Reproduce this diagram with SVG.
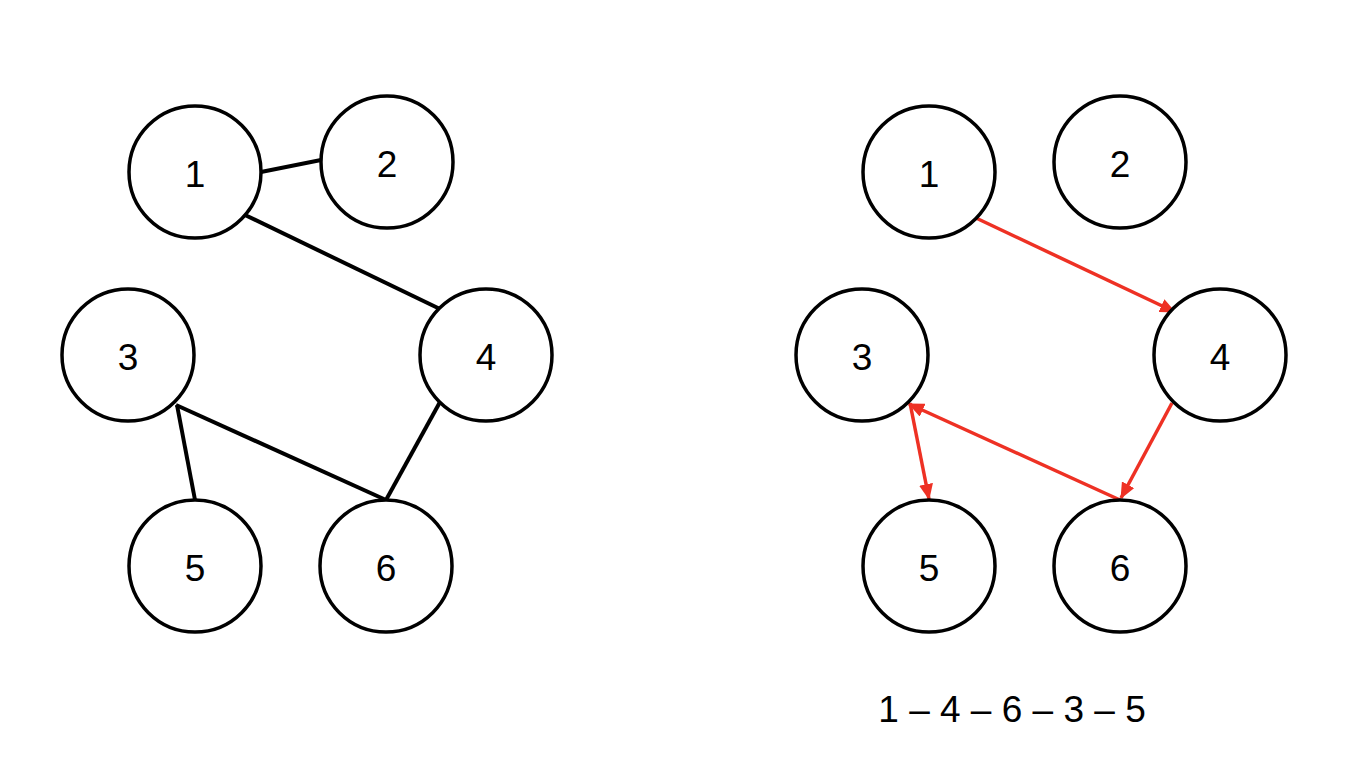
<svg xmlns="http://www.w3.org/2000/svg" width="1370" height="784" viewBox="0 0 1370 784">
<style>
.node{fill:#fff;stroke:#000;stroke-width:3.5}
.lbl{font-family:"Liberation Sans",Arial,sans-serif;font-size:37px;text-anchor:middle;fill:#000}
.e{stroke:#000;stroke-width:4;fill:none}
.a{stroke:#EE3124;stroke-width:3.5;fill:none;marker-end:url(#ah)}
</style>
<defs>
<marker id="ah" markerUnits="userSpaceOnUse" markerWidth="16" markerHeight="14" refX="15" refY="7" orient="auto">
<path d="M0,0 L16,7 L0,14 Z" fill="#EE3124"/>
</marker>
</defs>
<rect width="1370" height="784" fill="#fff"/>
<g id="connectors">
<line class="e" x1="261" y1="172" x2="321" y2="160"/>
<line class="e" x1="245" y1="215" x2="440" y2="309"/>
<line class="e" x1="177" y1="405" x2="195" y2="500"/>
<line class="e" x1="176" y1="405" x2="386" y2="500"/>
<line class="e" x1="440" y1="402" x2="386" y2="500"/>
<line class="a" x1="976" y1="218" x2="1175" y2="312"/>
<line class="a" x1="1172" y1="403" x2="1121" y2="498"/>
<line class="a" x1="1120" y1="500" x2="909" y2="404"/>
<line class="a" x1="910" y1="403" x2="929" y2="499"/>
</g>
<g id="n1"><circle class="node" cx="195" cy="172" r="66"/><text class="lbl" x="195" y="187">1</text></g>
<g id="n2"><circle class="node" cx="387" cy="162" r="66"/><text class="lbl" x="387" y="177">2</text></g>
<g id="n3"><circle class="node" cx="128" cy="355" r="66"/><text class="lbl" x="128" y="370">3</text></g>
<g id="n4"><circle class="node" cx="486" cy="355" r="66"/><text class="lbl" x="486" y="370">4</text></g>
<g id="n5"><circle class="node" cx="195" cy="566" r="66"/><text class="lbl" x="195" y="581">5</text></g>
<g id="n6"><circle class="node" cx="386" cy="566" r="66"/><text class="lbl" x="386" y="581">6</text></g>
<g id="m1"><circle class="node" cx="929" cy="172" r="66"/><text class="lbl" x="929" y="187">1</text></g>
<g id="m2"><circle class="node" cx="1120" cy="162" r="66"/><text class="lbl" x="1120" y="177">2</text></g>
<g id="m3"><circle class="node" cx="862" cy="355" r="66"/><text class="lbl" x="862" y="370">3</text></g>
<g id="m4"><circle class="node" cx="1220" cy="355" r="66"/><text class="lbl" x="1220" y="370">4</text></g>
<g id="m5"><circle class="node" cx="929" cy="566" r="66"/><text class="lbl" x="929" y="581">5</text></g>
<g id="m6"><circle class="node" cx="1120" cy="566" r="66"/><text class="lbl" x="1120" y="581">6</text></g>
<text class="lbl" x="1012" y="722">1 – 4 – 6 – 3 – 5</text>
</svg>
